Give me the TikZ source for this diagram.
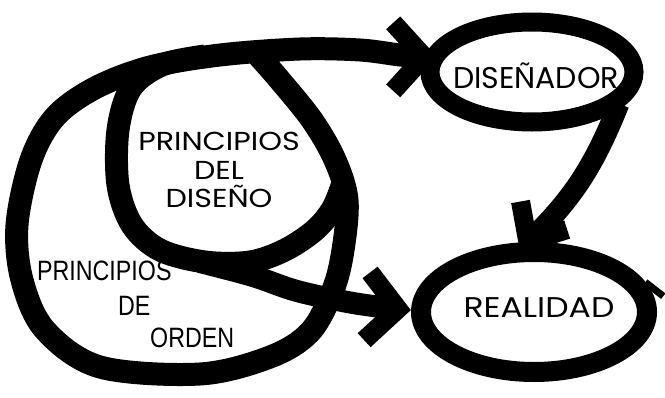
\documentclass[tikz,border=0pt]{standalone}
\usepackage{fontspec}
\setmainfont{Poppins}
\newfontfamily\widefont[FakeStretch=1.16]{Poppins}
\newfontfamily\ordenfont[FakeStretch=0.83]{Liberation Sans}
\usetikzlibrary{shapes.geometric}

\tikzset{
  % thick hand-drawn stroke used for the loops and shafts
  brush/.style={line width=23pt, line join=round, line cap=butt},
  bubble/.style={draw, ellipse, inner sep=0pt},
  wordsty/.style={inner sep=0pt, anchor=base},
  ordensty/.style={inner sep=0pt, anchor=base west,
    font=\ordenfont\fontsize{28}{30}\selectfont},
  % open barbed head, centre-line tip at the origin, pointing along +x
  chevron/.pic={\draw[line width=19pt, line join=miter, line cap=butt]
      (-31,-34) -- (0,0) -- (-31,34);}
}

\begin{document}
\begin{tikzpicture}[x=1pt,y=-1pt]
\useasboundingbox (0,0) rectangle (665,397);

% the two ellipses
\node[bubble, line width=19pt, minimum width=204pt, minimum height=100pt]
  (dis) at (532,72) {};
\node[bubble, line width=20pt, minimum width=226pt, minimum height=120pt]
  (real) at (534,312) {};

\node[wordsty, font=\fontsize{30}{32}\selectfont] (distext) at (536,88) {DISEÑADOR};
\node[wordsty, font=\widefont\fontsize{28.5}{30}\selectfont] (realtext) at (539,317) {REALIDAD};

% arrow tip positions
\coordinate (tipD) at (dis.172);
\coordinate (tipR) at ([xshift=-13pt,yshift=3pt]real.west);
\coordinate (tipR2) at (real.95);

% outer loop (principios de orden) ending in the arrow to the designer
\draw[brush] plot[smooth, tension=0.55] coordinates {
  (255,52) (278,78) (312,120) (335,160) (347,200) (343,250) (333,290)
  (310,332) (270,357) (200,374) (100,367) (45,330) (22,280) (17,225)
  (31,160) (55,117) (95,88) (150,67) (220,55) (300,49) (360,50) (400,55)
  (tipD)};

% inner loop (principios del diseño)
\draw[brush] plot[smooth, tension=0.55] coordinates {
  (205,56) (162,65) (131,88) (118,130) (118,185) (132,225) (160,250)
  (205,262) (250,262) (285,250) (315,230) (333,208) (344,180)};

% shaft from the inner loop to reality
\draw[brush, line width=22pt] plot[smooth, tension=0.55] coordinates {
  (200,262) (253,276) (297,291) (353,303) (tipR)};

% shaft from the designer to reality
\draw[line width=21pt, shorten <=-8pt] (dis.-25) to[bend left=12] (tipR2);
\draw[line width=7pt] (real.15) -- ++(18,14);

% arrow heads
\pic[rotate=0] at (tipD) {chevron};
\pic[rotate=-5] at (tipR) {chevron};
\pic[rotate=-121, yscale=0.8] at (tipR2) {chevron};

% labels
\node[inner sep=0pt, align=center, font=\widefont\fontsize{26}{28.5}\selectfont]
  (pd) at (219,170) {PRINCIPIOS\\DEL\\DISEÑO};
\node[ordensty] (po1) at (37,280) {PRINCIPIOS};
\node[ordensty] (po2) at (118,315) {DE};
\node[ordensty] (po3) at (150,347) {ORDEN};
\end{tikzpicture}
\end{document}
